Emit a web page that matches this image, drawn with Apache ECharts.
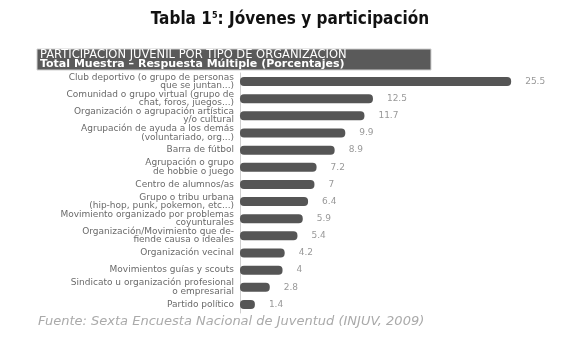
<!DOCTYPE html>
<html>
<head>
<meta charset="utf-8">
<script src="https://cdn.jsdelivr.net/npm/echarts@6/dist/echarts.min.js"></script>
<style>
  html, body { margin: 0; padding: 0; background: #fff; }
  #chart { width: 580px; height: 339px; }
</style>
</head>
<body>
<div id="chart"></div>
<script>
// categorias de arriba hacia abajo
var categorias = [
    'Club deportivo (o grupo de personas\nque se juntan...)',
    'Comunidad o grupo virtual (grupo de\nchat, foros, juegos...)',
    'Organización o agrupación artística\ny/o cultural',
    'Agrupación de ayuda a los demás\n(voluntariado, org...)',
    'Barra de fútbol',
    'Agrupación o grupo\nde hobbie o juego',
    'Centro de alumnos/as',
    'Grupo o tribu urbana\n(hip-hop, punk, pokemon, etc...)',
    'Movimiento organizado por problemas\ncoyunturales',
    'Organización/Movimiento que de-\nfiende causa o ideales',
    'Organización vecinal',
    'Movimientos guías y scouts',
    'Sindicato u organización profesional\no empresarial',
    'Partido político'
];
var porcentajes = [25.5, 12.5, 11.7, 9.9, 8.9, 7.2, 7, 6.4, 5.9, 5.4, 4.2, 4, 2.8, 1.4];

var fuente = 'Fuente: Sexta Encuesta Nacional de Juventud (INJUV, 2009)';

var myChart = echarts.init(document.getElementById('chart'));
var option = {
    backgroundColor: '#fff',
    animation: false,
    title: {
        text: '{a|Tabla 1}{s|5}{a|: Jóvenes y participación}',
        left: 'center',
        top: 6,
        textStyle: {
            rich: {
                a: { fontFamily: 'DejaVu Sans Condensed', fontWeight: 'bold', fontSize: 17, color: '#111' },
                s: { fontFamily: 'DejaVu Sans Condensed', fontWeight: 'bold', fontSize: 9, color: '#111', verticalAlign: 'top', padding: [0, 0, 8, 0] }
            }
        }
    },
    graphic: [
        {
            type: 'rect',
            shape: { x: 37, y: 49, width: 394, height: 21 },
            style: { fill: '#5a5a5a', stroke: '#d0d0d0', lineWidth: 1 }
        },
        {
            type: 'text',
            left: 40, top: 49,
            style: {
                text: 'PARTICIPACIÓN JUVENIL POR TIPO DE ORGANIZACIÓN',
                fill: '#fff', fontFamily: 'DejaVu Sans', fontSize: 11.5, fontWeight: 'normal'
            }
        },
        {
            type: 'text',
            left: 40, top: 59,
            style: {
                text: 'Total Muestra – Respuesta Múltiple (Porcentajes)',
                fill: '#fff', fontFamily: 'DejaVu Sans', fontSize: 11, fontWeight: 'bold'
            }
        },
        {
            type: 'text',
            left: 38, top: 315,
            style: {
                text: fuente,
                fill: '#aaa', fontFamily: 'DejaVu Sans', fontSize: 13, fontStyle: 'italic'
            }
        }
    ],
    grid: {
        left: 240,
        right: 21,
        top: 73,
        bottom: 26,
        containLabel: false
    },
    xAxis: {
        type: 'value',
        min: 0,
        max: 30,
        show: false
    },
    yAxis: {
        type: 'category',
        inverse: true,
        data: categorias,
        axisLine: { show: true, lineStyle: { color: '#cfcfcf', width: 1 } },
        axisTick: { show: false },
        axisLabel: {
            interval: 0,
            showMinLabel: true,
            showMaxLabel: true,
            hideOverlap: false,
            margin: 6,
            color: '#6a6a6a',
            fontFamily: 'DejaVu Sans',
            fontSize: 9,
            lineHeight: 8.5,
            align: 'right'
        }
    },
    series: [
        {
            type: 'bar',
            data: porcentajes,
            barWidth: 9,
            itemStyle: {
                color: '#555',
                borderRadius: 4
            },
            label: {
                show: true,
                position: 'right',
                distance: 14,
                color: '#999',
                fontFamily: 'DejaVu Sans',
                fontSize: 9
            }
        }
    ]
};
myChart.setOption(option);
</script>
</body>
</html>
